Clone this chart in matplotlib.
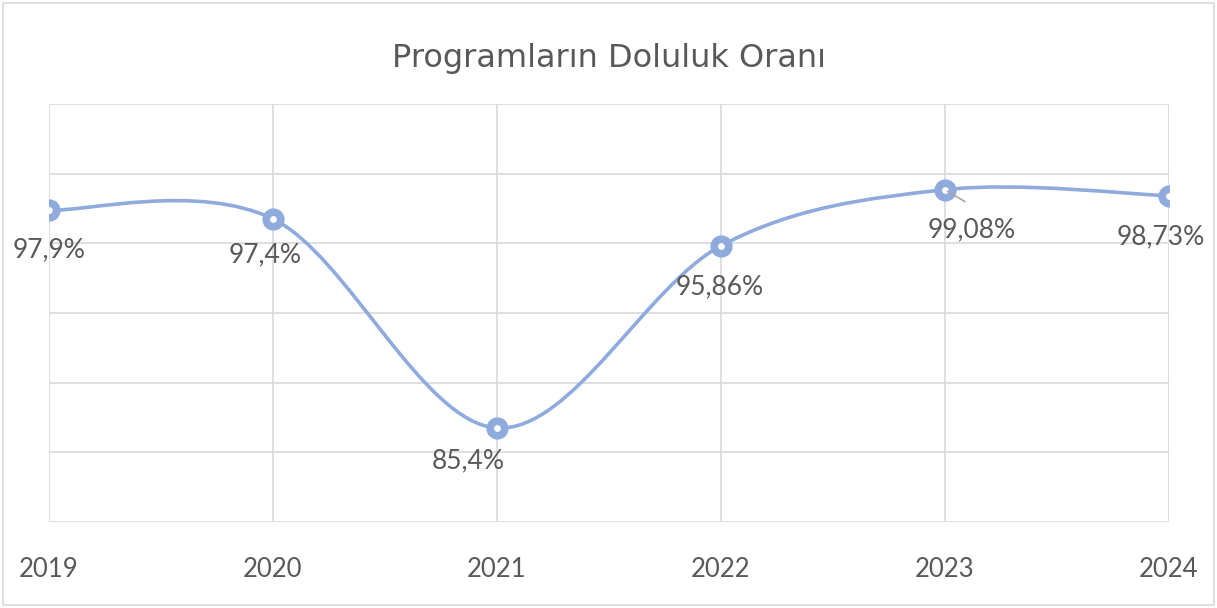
import numpy as np
import matplotlib.pyplot as plt
from matplotlib.path import Path
from matplotlib.patches import PathPatch, Rectangle

# data
years = ["2019", "2020", "2021", "2022", "2023", "2024"]
rates = [97.9, 97.4, 85.4, 95.86, 99.08, 98.73]
rate_labels = ["97,9%", "97,4%", "85,4%", "95,86%", "99,08%", "98,73%"]

# label offsets in pixels (dx, dy) relative to the point
label_offsets = [(0, -40), (-8, -36), (-29, -33), (-1, -41), (27, -40), (-8, -41)]

LINE = "#8FAADC"
TXT = "#595959"
GRID = "#D9D9D9"
FONT = ["Lato", "DejaVu Sans"]

plt.rcParams['font.family'] = FONT

W, H, DPI = 1217, 608, 100
fig = plt.figure(figsize=(W / DPI, H / DPI), dpi=DPI)
ax = fig.add_axes([49 / W, 1 - 522 / H, (1169 - 49) / W, (522 - 104) / H])

x = np.arange(len(years))
y = np.array(rates)
ax.set_xlim(0, len(years) - 1)
ax.set_ylim(80, 104)

# smoothed line (Catmull-Rom style bezier like Excel)
pts = np.column_stack([x, y]).astype(float)
ext = np.vstack([pts[0], pts, pts[-1]])
verts = [tuple(pts[0])]
codes = [Path.MOVETO]
for i in range(len(pts) - 1):
    p0, p1, p2, p3 = ext[i], ext[i + 1], ext[i + 2], ext[i + 3]
    c1 = p1 + (p2 - p0) / 6.0
    c2 = p2 - (p3 - p1) / 6.0
    verts += [tuple(c1), tuple(c2), tuple(p2)]
    codes += [Path.CURVE4] * 3
ax.add_patch(PathPatch(Path(verts, codes), facecolor="none", edgecolor=LINE,
                       lw=2.6, zorder=3, capstyle="round"))
ax.plot(x, y, ls="none", marker="o", ms=10.5, mfc="white", mec=LINE, mew=5.5, zorder=4)

# grid
ax.set_yticks(np.arange(80, 105, 4))
ax.set_xticks(x)
ax.grid(True, color=GRID, lw=1.2)
ax.set_axisbelow(True)
for s in ax.spines.values():
    s.set_visible(False)
ax.tick_params(length=0, labelleft=False)
ax.set_xticklabels(years, fontsize=18.5, color=TXT)
ax.tick_params(axis="x", pad=25)

# data labels
for i, (lab, off) in enumerate(zip(rate_labels, label_offsets)):
    ax.annotate(lab, (x[i], y[i]), xytext=(off[0] * 0.72, off[1] * 0.72),
                textcoords="offset points", ha="center", va="center",
                fontsize=19, color=TXT, zorder=5)
# leader line for 2023
ax.annotate("", (x[4], y[4]), xytext=(20 * 0.72, -12 * 0.72), textcoords="offset points",
            arrowprops=dict(arrowstyle="-", color="#A6A6A6", lw=1.2, shrinkA=0, shrinkB=2),
            zorder=5)

fig.text(0.5, 1 - 58 / H, "Programların Doluluk Oranı", ha="center", va="center",
         fontsize=23, color=TXT, family=["DejaVu Sans"])

fig.patches.append(Rectangle((3 / W, 3 / H), (W - 6) / W, (H - 6) / H,
                             transform=fig.transFigure, fill=False,
                             edgecolor=GRID, lw=1.2))

fig.savefig("out.png", dpi=DPI)
